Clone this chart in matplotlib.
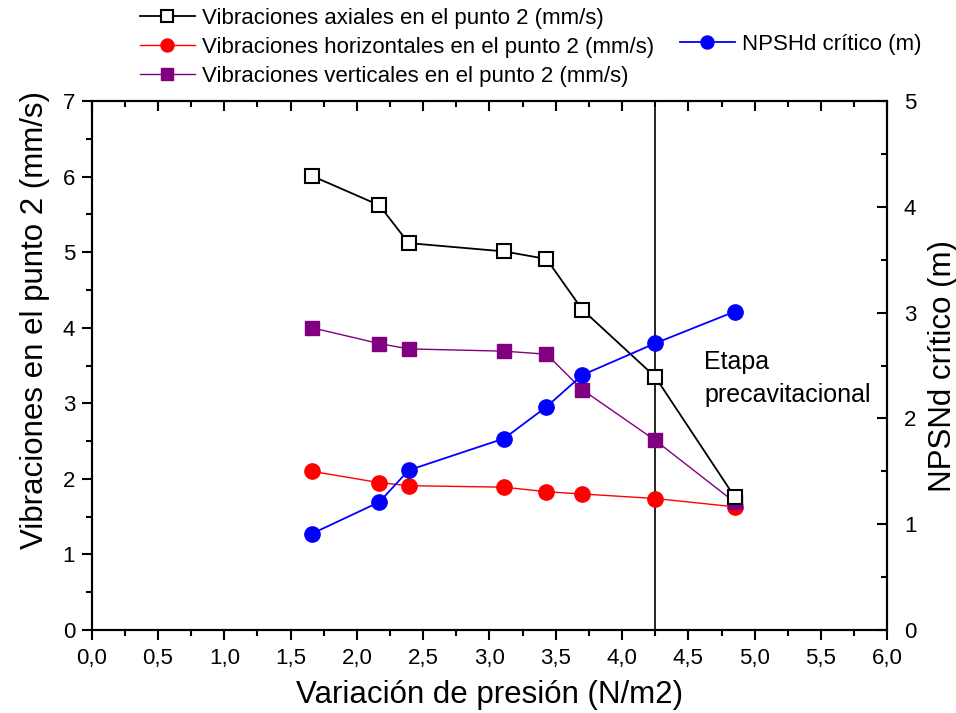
import matplotlib
matplotlib.use("Agg")
import matplotlib.pyplot as plt
from matplotlib.ticker import MultipleLocator, FuncFormatter

plt.rcParams['font.family'] = ['Liberation Sans', 'DejaVu Sans']

presion = [1.66, 2.17, 2.39, 3.11, 3.43, 3.70, 4.25, 4.85]
axiales = [6.01, 5.62, 5.12, 5.01, 4.91, 4.24, 3.35, 1.76]
horizontales = [2.10, 1.95, 1.91, 1.89, 1.83, 1.80, 1.74, 1.63]
verticales = [4.00, 3.79, 3.72, 3.69, 3.65, 3.18, 2.51, 1.69]
npsh = [0.91, 1.21, 1.51, 1.81, 2.11, 2.41, 2.71, 3.01]
linea_etapa = 4.25

lab_ax = "Vibraciones axiales en el punto 2 (mm/s)"
lab_h = "Vibraciones horizontales en el punto 2 (mm/s)"
lab_v = "Vibraciones verticales en el punto 2 (mm/s)"
lab_n = "NPSHd crítico (m)"

fig = plt.figure(figsize=(9.56, 7.13), dpi=100)
ax = fig.add_axes([0.0959, 0.1164, 0.8322, 0.7419])
ax2 = ax.twinx()

l1, = ax.plot(presion, axiales, color='black', lw=1.3, marker='s', ms=10,
              mfc='white', mec='black', mew=1.5, zorder=5)
l2, = ax.plot(presion, horizontales, color='#ff0000', lw=1.0, marker='o', ms=11,
              mfc='#ff0000', mec='#ff0000', zorder=4)
l3, = ax.plot(presion, verticales, color='#800080', lw=1.0, marker='s', ms=10,
              mfc='#800080', mec='#800080', zorder=4)
ax.axvline(linea_etapa, color='black', lw=1.2, zorder=3)
l4, = ax2.plot(presion, npsh, color='#0000ff', lw=1.3, marker='o', ms=11,
               mfc='#0000ff', mec='#0000ff', zorder=5)

ax.set_xlim(0, 6)
ax.set_ylim(0, 7)
ax2.set_ylim(0, 5)

comma = FuncFormatter(lambda v, p: f"{v:.1f}".replace('.', ','))
ax.xaxis.set_major_locator(MultipleLocator(0.5))
ax.xaxis.set_minor_locator(MultipleLocator(0.25))
ax.xaxis.set_major_formatter(comma)
ax.yaxis.set_major_locator(MultipleLocator(1))
ax.yaxis.set_minor_locator(MultipleLocator(0.5))
ax2.yaxis.set_major_locator(MultipleLocator(1))
ax2.yaxis.set_minor_locator(MultipleLocator(0.5))

ax.tick_params(axis='x', which='both', direction='out', top=True, labelsize=16, pad=6)
ax.tick_params(axis='x', which='major', length=7, width=1.5)
ax.tick_params(axis='x', which='minor', length=4, width=1.5)
ax.tick_params(axis='y', which='both', direction='out', labelsize=16, pad=5)
ax.tick_params(axis='y', which='major', length=7, width=1.5)
ax.tick_params(axis='y', which='minor', length=4, width=1.5)
ax2.tick_params(axis='y', which='both', direction='in', labelsize=16, pad=12)
ax2.tick_params(axis='y', which='major', length=7, width=1.5)
ax2.tick_params(axis='y', which='minor', length=4, width=1.5)
for t in ax.xaxis.get_major_ticks() + ax.xaxis.get_minor_ticks():
    t.tick2line.set_marker(3)

for a in (ax, ax2):
    for s in a.spines.values():
        s.set_linewidth(1.5)

ax.set_xlabel("Variación de presión (N/m2)", fontsize=22.5, labelpad=8)
ax.set_ylabel("Vibraciones en el punto 2 (mm/s)", fontsize=22.5)
ax.yaxis.set_label_coords(-0.053, 0.586)
ax2.set_ylabel("NPSNd crítico (m)", fontsize=22.5, labelpad=8)

ax.text(4.62, 3.33, "Etapa\nprecavitacional", fontsize=18, va='center', ha='left',
        linespacing=1.45)

fig.legend([l1, l2, l3], [lab_ax, lab_h, lab_v], loc='upper left',
           bbox_to_anchor=(0.146, 0.989), frameon=False, fontsize=16,
           handlelength=2.5, handletextpad=0.3, labelspacing=0.36,
           borderpad=0, borderaxespad=0, markerscale=0.85)
fig.legend([l4], [lab_n], loc='upper left',
           bbox_to_anchor=(0.711, 0.952), frameon=False, fontsize=16,
           handlelength=2.5, handletextpad=0.3, borderpad=0, borderaxespad=0,
           markerscale=0.85)

fig.savefig("out.png", dpi=100)
